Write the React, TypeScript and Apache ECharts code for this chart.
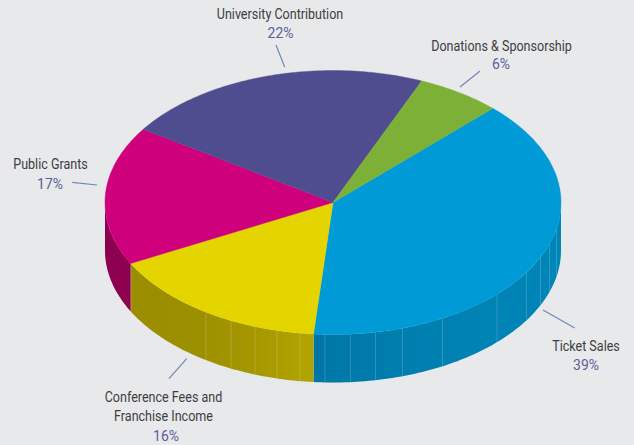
import React, { useEffect, useRef } from "react";
import * as echarts from "echarts";

const categories = [
  "Ticket Sales",
  "Conference Fees and\nFranchise Income",
  "Public Grants",
  "University Contribution",
  "Donations & Sponsorship",
];
const shares = [39, 16, 17, 22, 6];
const topColors = ["#009ad6", "#e4d400", "#cf007b", "#504c90", "#7db036"];
const wallStops = [
  ["#0076a6", "#007eae", "#0083b5", "#0085b8"],
  ["#9a8d00", "#9c8f00", "#a69800", "#b3a500"],
  ["#8e0050", "#8e0050", "#8e0050", "#8e0050"],
  ["#333", "#333", "#333", "#333"],
  ["#555", "#555", "#555", "#555"],
];
// x positions of the faint vertical seams on the pie's side wall
const wallSeams = [131, 206, 231, 255, 277, 300, 325, 350.5, 375.5, 402.5, 442.5, 497, 526.5, 540.5, 549.5, 556.5];

// label anchors: [name x, name y, percent x, percent y]
const labelAnchors = [
  [586, 346, 586, 365.5],
  [163.5, 406.5, 166, 436],
  [50.5, 164, 50, 184],
  [280, 13.5, 280.5, 33.5],
  [501.5, 45.5, 501, 64.5],
];
// leader lines: [x1, y1, x2, y2]
const leaders = [
  [543, 310, 574.7, 328],
  [186.7, 358.7, 169, 378.7],
  [72.3, 182.3, 97, 185],
  [276, 45, 284.7, 67],
  [480, 71, 460, 87],
];

const CX = 333;
const CY = 202.5;
const RX = 228;
const RY = 132;
const DEPTH = 48;
const START_DEG = 44.5;
const FONT = '"Roboto", sans-serif';

const total = shares.reduce((a, b) => a + b, 0);
const startOf = (i: number) =>
  START_DEG + (shares.slice(0, i).reduce((a, b) => a + b, 0) / total) * 360;
const pt = (deg: number, dy = 0): number[] => {
  const r = (deg * Math.PI) / 180;
  return [CX + RX * Math.sin(r), CY - RY * Math.cos(r) + dy];
};
const arc = (a0: number, a1: number, dy = 0) => {
  const n = Math.max(2, Math.ceil(Math.abs(a1 - a0)));
  const out: number[][] = [];
  for (let k = 0; k <= n; k++) out.push(pt(a0 + ((a1 - a0) * k) / n, dy));
  return out;
};

export default function App() {
  const ref = useRef<HTMLDivElement>(null);
  useEffect(() => {
    document.body.style.margin = "0";
    document.body.style.background = "#e8e9eb";
    const chart = echarts.init(ref.current!, undefined, { renderer: "svg" });
    const graphic: any[] = [];
    leaders.forEach((l) => {
      graphic.push({
        type: "line",
        shape: { x1: l[0], y1: l[1], x2: l[2], y2: l[3] },
        style: { stroke: "#7088b4", lineWidth: 1.2 },
      });
    });
    categories.forEach((name, i) => {
      const a = labelAnchors[i];
      graphic.push({
        type: "text",
        x: a[0],
        y: a[1],
        scaleX: 0.865,
        style: {
          text: name,
          fill: "#3d3d3f",
          font: `14.5px ${FONT}`,
          lineHeight: 19,
          align: "center",
          verticalAlign: "middle",
        },
      });
      graphic.push({
        type: "text",
        x: a[2],
        y: a[3],
        scaleX: 0.93,
        style: {
          text: `${shares[i]}%`,
          fill: "#59609a",
          font: `15px ${FONT}`,
          align: "center",
          verticalAlign: "middle",
        },
      });
    });
    const data = shares.map((v, i) => ({ name: categories[i], value: [v] }));
    chart.setOption({
      animation: false,
      backgroundColor: "#e8e9eb",
      graphic,
      series: [
        {
          type: "custom",
          coordinateSystem: "none",
          silent: true,
          data,
          renderItem: (p: any) => {
            const i = p.dataIndex;
            const a0 = Math.max(startOf(i), 90);
            const a1 = Math.min(startOf(i + 1), 270);
            if (a1 <= a0) return null;
            const top = arc(a0, a1);
            const bottom = arc(a1, a0, DEPTH);
            const xs = top.map((q) => q[0]);
            const s = wallStops[i];
            return {
              type: "polygon",
              shape: { points: top.concat(bottom) },
              style: {
                fill: new echarts.graphic.LinearGradient(
                  Math.min(...xs), 0, Math.max(...xs), 0,
                  [
                    { offset: 0, color: s[0] },
                    { offset: 0.35, color: s[1] },
                    { offset: 0.7, color: s[2] },
                    { offset: 1, color: s[3] },
                  ],
                  true
                ),
              },
            };
          },
        },
        {
          type: "custom",
          coordinateSystem: "none",
          silent: true,
          data: wallSeams.map((x) => [x]),
          renderItem: (_p: any, api: any) => {
            const x = api.value(0);
            const a = 180 - (Math.asin((x - CX) / RX) * 180) / Math.PI;
            const q = pt(a);
            return {
              type: "line",
              shape: { x1: q[0], y1: q[1], x2: q[0], y2: q[1] + DEPTH },
              style: { stroke: "rgba(255,255,255,0.22)", lineWidth: 0.8 },
            };
          },
        },
        {
          type: "custom",
          coordinateSystem: "none",
          silent: true,
          data,
          renderItem: (p: any) => {
            const i = p.dataIndex;
            const pts = [[CX, CY]].concat(arc(startOf(i), startOf(i + 1)));
            return {
              type: "polygon",
              shape: { points: pts },
              style: { fill: topColors[i], stroke: topColors[i], lineWidth: 0.4 },
            };
          },
        },
      ],
    });
    return () => chart.dispose();
  }, []);
  return <div ref={ref} style={{ width: 634, height: 445 }} />;
}
